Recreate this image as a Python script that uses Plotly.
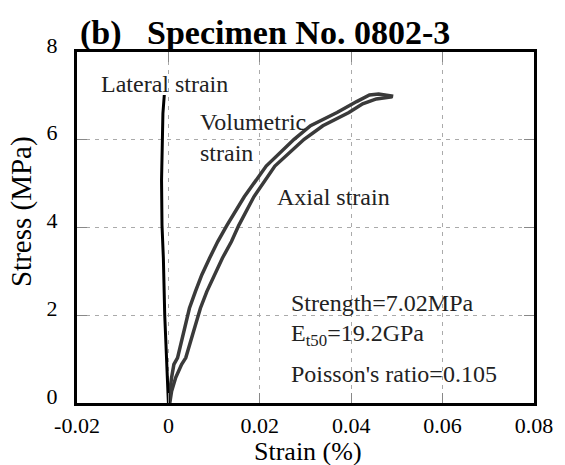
import plotly.graph_objects as go

# ---- data ----
stress_vol = [0, 0.27, 0.58, 0.88, 1.03, 1.40, 1.78, 2.16, 2.54, 2.92, 3.30, 3.68, 4.05,
              4.70, 5.40, 6.01, 6.32, 6.62, 6.87, 7.02, 7.04, 7.02, 6.99]
strain_vol = [0.0002, 0.0003, 0.0007, 0.0012, 0.0020, 0.0029, 0.0037, 0.0046, 0.0059, 0.0073,
              0.0090, 0.0108, 0.0128, 0.0166, 0.0214, 0.0275, 0.0311, 0.0369, 0.0412, 0.0440,
              0.0460, 0.0478, 0.0492]

stress_axial = [0, 0.27, 0.58, 0.88, 1.03, 1.40, 1.78, 2.16, 2.54, 2.92, 3.30, 3.68, 4.05,
                4.70, 5.40, 6.01, 6.32, 6.62, 6.82, 6.93, 6.98]
strain_axial = [0.0003, 0.0007, 0.0016, 0.0029, 0.0038, 0.0049, 0.0059, 0.0070, 0.0084, 0.0101,
                0.0118, 0.0138, 0.0154, 0.0187, 0.0233, 0.0297, 0.0338, 0.0395, 0.0425, 0.0455,
                0.0490]

stress_lat = [0, 0.5, 1.03, 2.0, 3.3, 4.05, 5.08, 6.0, 6.6, 7.02]
strain_lat = [0, -0.0002, -0.0004, -0.0008, -0.0011, -0.0014, -0.0015, -0.0014, -0.0012, -0.0009]

x_ticks = [-0.02, 0, 0.02, 0.04, 0.06, 0.08]
x_tick_labels = ["-0.02", "0", "0.02", "0.04", "0.06", "0.08"]
y_ticks = [0, 2, 4, 6, 8]
y_tick_labels = ["0", "2", "4", "6", "8"]

FONT = "Liberation Serif, Times New Roman, serif"

fig = go.Figure()
fig.add_trace(go.Scatter(x=strain_vol, y=stress_vol, mode="lines",
                         line=dict(color="#3a3a3a", width=3.5), name="Volumetric strain"))
fig.add_trace(go.Scatter(x=strain_axial, y=stress_axial, mode="lines",
                         line=dict(color="#3a3a3a", width=3.5), name="Axial strain"))
fig.add_trace(go.Scatter(x=strain_lat, y=stress_lat, mode="lines",
                         line=dict(color="#000000", width=3), name="Lateral strain"))

axis_common = dict(
    showline=True, linecolor="black", linewidth=3, mirror="ticks",
    ticks="inside", ticklen=10, tickcolor="#888888", tickwidth=1,
    showgrid=True, gridcolor="#aaaaaa", gridwidth=1, griddash="4px,5px",
    zeroline=False, tickfont=dict(family=FONT, size=22, color="black"),
)

fig.update_xaxes(range=[-0.02, 0.08], tickvals=x_ticks, ticktext=x_tick_labels,
                 ticklabelstandoff=1, **axis_common)
fig.update_yaxes(range=[0, 8], tickvals=y_ticks, ticktext=y_tick_labels,
                 ticklabelstandoff=12, ticklabelshift=-7, **axis_common)

ann_font = dict(family=FONT, size=24, color="#222222")
annotations = [
    dict(x=-0.0152, y=7.27, text="Lateral strain", xanchor="left", yanchor="middle"),
    dict(x=0.0064, y=6.06, text="Volumetric<br>strain", xanchor="left", yanchor="middle", align="left"),
    dict(x=0.0234, y=4.70, text="Axial strain", xanchor="left", yanchor="middle"),
    dict(x=0.0264, y=2.28, text="Strength=7.02MPa", xanchor="left", yanchor="middle"),
    dict(x=0.0264, y=1.56, text="E<sub>t50</sub>=19.2GPa", xanchor="left", yanchor="middle"),
    dict(x=0.0264, y=0.65, text="Poisson's ratio=0.105", xanchor="left", yanchor="middle"),
]
for a in annotations:
    fig.add_annotation(xref="x", yref="y", showarrow=False, font=ann_font, **a)

# title and axis titles as paper annotations
fig.add_annotation(xref="paper", yref="paper", x=0.002, y=1.055, xanchor="left", yanchor="middle",
                   text="<b>(b)\u00a0\u00a0\u00a0Specimen No. 0802-3</b>", showarrow=False,
                   font=dict(family=FONT, size=34, color="black"))
fig.add_annotation(xref="paper", yref="paper", x=0.505, y=-0.138, xanchor="center", yanchor="middle",
                   text="Strain (%)", showarrow=False,
                   font=dict(family=FONT, size=26, color="black"))
fig.add_annotation(xref="paper", yref="paper", x=-0.121, y=0.546, xanchor="center", yanchor="middle",
                   text="Stress (MPa)", showarrow=False, textangle=-90,
                   font=dict(family=FONT, size=29, color="black"))

fig.update_layout(
    width=565, height=465,
    margin=dict(l=77, r=24, t=52, b=62, pad=0),
    plot_bgcolor="white", paper_bgcolor="white",
    showlegend=False,
)

fig.write_html("out.html", config={"displayModeBar": False},
               post_script="document.body.style.margin='0';")
